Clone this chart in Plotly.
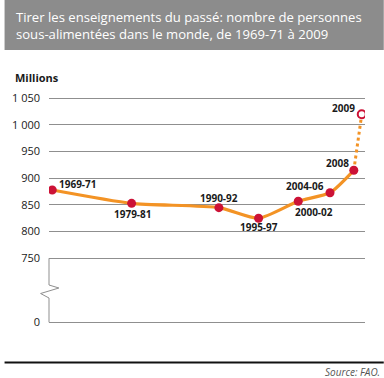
import plotly.graph_objects as go

# ---- data ----
periods = ["1969-71", "1979-81", "1990-92", "1995-97", "2000-02", "2004-06", "2008", "2009"]
mid_years = [1970, 1980, 1991, 1996, 2001, 2005, 2008, 2009]
undernourished = [878, 853, 845, 825, 857, 873, 915, 1020]
upper_ticks = [750, 800, 850, 900, 950, 1000, 1050]
upper_tick_labels = ["750", "800", "850", "900", "950", "1 000", "1 050"]
lower_ticks = [0]
lower_tick_labels = ["0"]
title_text = "Tirer les enseignements du passé: nombre de personnes<br>sous-alimentées dans le monde, de 1969-71 à 2009"
source_text = "Source: FAO."

# label offsets (px) per point: (xshift, yshift)
label_offsets = [(26, 6), (1, -11), (0, 10), (0, -9), (16, -11), (-25, 7), (-16, 7), (-18, 6)]

W, H = 384, 378
ORANGE = "#f39325"
RED = "#cc1236"
GRID = "#8f8f8f"
FONT = "Open Sans"

fig = go.Figure()

# solid part (observed estimates up to 2008)
fig.add_trace(go.Scatter(
    x=mid_years[:-1], y=undernourished[:-1], mode="lines",
    line=dict(color=ORANGE, width=3.2, shape="spline", smoothing=0.6),
    hoverinfo="skip", showlegend=False, yaxis="y"))
# projected part (2008 -> 2009), dotted
fig.add_trace(go.Scatter(
    x=mid_years[-2:], y=undernourished[-2:], mode="lines",
    line=dict(color=ORANGE, width=3, dash="dot"),
    hoverinfo="skip", showlegend=False, yaxis="y"))
# markers
fig.add_trace(go.Scatter(
    x=mid_years[:-1], y=undernourished[:-1], mode="markers",
    marker=dict(color=RED, size=9, line=dict(width=0)),
    showlegend=False, yaxis="y"))
fig.add_trace(go.Scatter(
    x=mid_years[-1:], y=undernourished[-1:], mode="markers",
    marker=dict(color="white", size=8, line=dict(color=RED, width=2)),
    showlegend=False, yaxis="y"))
# invisible trace to activate lower axis
fig.add_trace(go.Scatter(
    x=[mid_years[0]], y=[0], mode="markers", marker=dict(opacity=0),
    hoverinfo="skip", showlegend=False, yaxis="y2"))

# point labels
for p, xv, yv, (dx, dy) in zip(periods, mid_years, undernourished, label_offsets):
    fig.add_annotation(x=xv, y=yv, xref="x", yref="y", text="<b>" + p + "</b>",
                       showarrow=False, xshift=dx, yshift=dy,
                       font=dict(family=FONT, size=10, color="#1a1a1a"))

# plot area: pixels y 90..330, x 45..365
top_px, bot_px = 90, 330
ph = bot_px - top_px

def frac(py):
    return (bot_px - py) / ph

upper_bottom_px = 262
px_per_unit = 26.67 / 50
upper_range = [750 - (upper_bottom_px - 258.3) / px_per_unit,
               1050 + (98.3 - top_px) / px_per_unit]

fig.update_layout(
    width=W, height=H,
    margin=dict(l=45, r=19, t=top_px, b=H - bot_px),
    paper_bgcolor="white", plot_bgcolor="white",
    font=dict(family=FONT, color="#1a1a1a"),
    xaxis=dict(range=[1969.59, 2009.41], showgrid=False, zeroline=False,
               showticklabels=False, showline=False, ticks=""),
    yaxis=dict(domain=[frac(upper_bottom_px), 1], range=upper_range,
               tickvals=upper_ticks, ticktext=upper_tick_labels,
               showgrid=True, gridcolor=GRID, gridwidth=1, zeroline=False,
               showline=False, ticks="", ticklabelstandoff=8,
               tickfont=dict(family=FONT, size=11, color="#1a1a1a")),
    yaxis2=dict(domain=[0, frac(300)], range=[-8, 22],
                tickvals=lower_ticks, ticktext=lower_tick_labels,
                showgrid=True, gridcolor=GRID, gridwidth=1, zeroline=False,
                showline=False, ticks="", ticklabelstandoff=8,
                tickfont=dict(family=FONT, size=11, color="#1a1a1a")),
    showlegend=False,
)

# header band
fig.add_shape(type="rect", xref="paper", yref="paper",
              x0=-45 / 320, x1=1 + 19 / 320, y0=frac(50), y1=frac(0),
              fillcolor="#8c8c8c", line=dict(width=0), layer="below")
fig.add_annotation(xref="paper", yref="paper", x=(10 - 45) / 320, y=frac(25.5),
                   xanchor="left", yanchor="middle", align="left",
                   text=title_text, showarrow=False,
                   font=dict(family=FONT, size=13.1, color="white"))
# "Millions"
fig.add_annotation(xref="paper", yref="paper", x=(9 - 45) / 320, y=frac(77),
                   xanchor="left", yanchor="middle", text="<b>Millions</b>",
                   showarrow=False, font=dict(family=FONT, size=11, color="#1a1a1a"))

# axis break: vertical line with zigzag
def xp(px):
    return (px - 45) / 320

path = "M {x0},{y0} L {x0},{y1} L {x2},{y2} L {x3},{y3} L {x0},{y4} L {x0},{y5}".format(
    x0=xp(45), y0=frac(258.3), y1=frac(285), x2=xp(55), y2=frac(288),
    x3=xp(36.5), y3=frac(293.5), y4=frac(298), y5=frac(322.3))
fig.add_shape(type="path", xref="paper", yref="paper", path=path,
              line=dict(color=GRID, width=1))

# bottom rule and source
fig.add_shape(type="line", xref="paper", yref="paper",
              x0=xp(0), x1=xp(384), y0=frac(362.5), y1=frac(362.5),
              line=dict(color="#111111", width=2))
fig.add_annotation(xref="paper", yref="paper", x=xp(382), y=frac(372),
                   xanchor="right", yanchor="middle", text="<i>" + source_text + "</i>",
                   showarrow=False, font=dict(family=FONT, size=10, color="#555555"))

fig.write_html("out.html",
               config={"displayModeBar": False},
               post_script="document.body.style.margin='0';document.body.style.overflow='hidden';")
